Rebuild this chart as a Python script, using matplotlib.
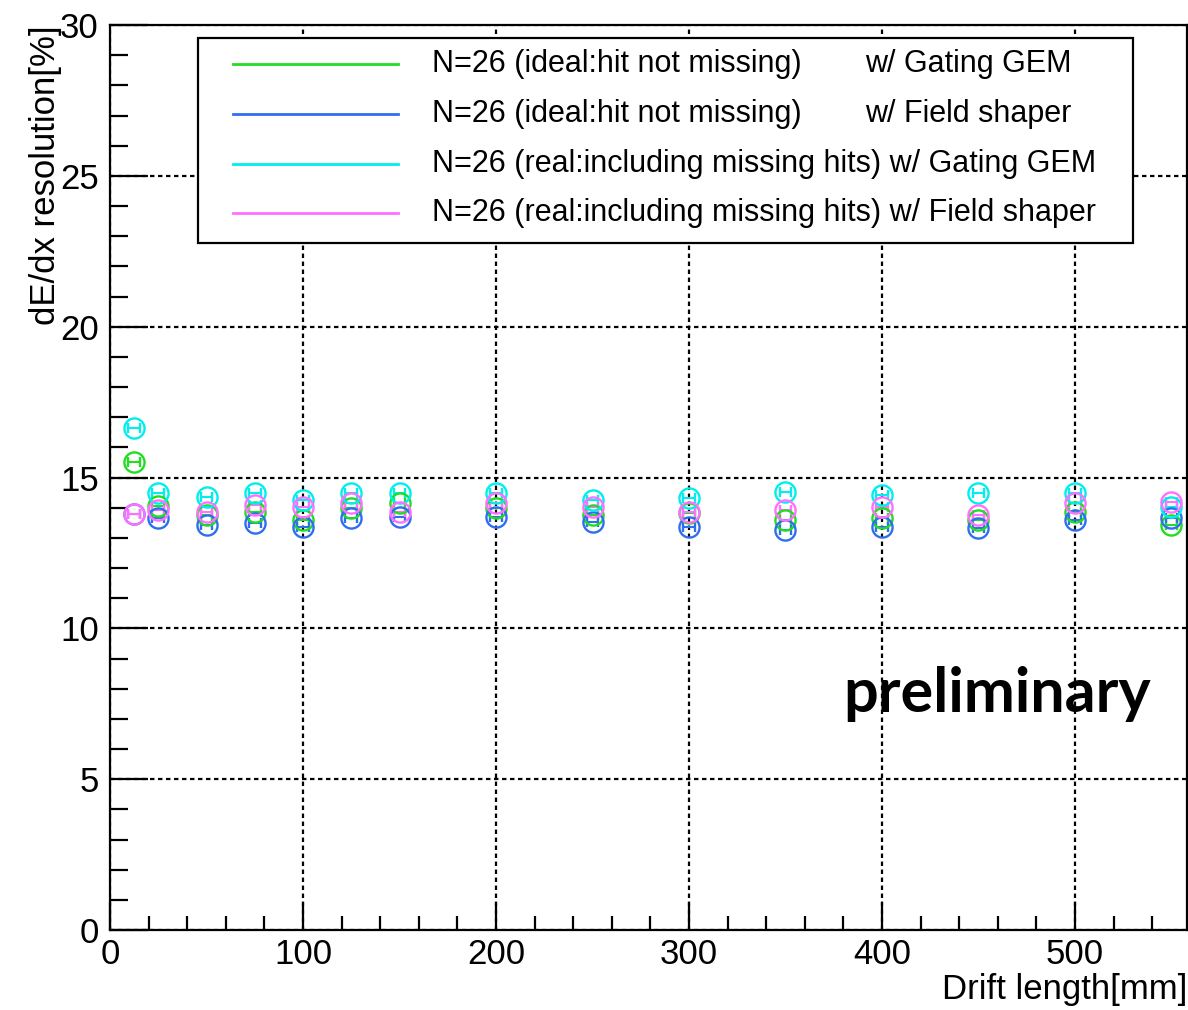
import matplotlib
matplotlib.use('Agg')
import numpy as np
import matplotlib.pyplot as plt
from matplotlib.ticker import MultipleLocator
from matplotlib.lines import Line2D
from matplotlib.patches import Rectangle

plt.rcParams['font.family'] = ['Liberation Sans', 'DejaVu Sans']

# drift length [mm]
drift = [12.5, 25, 50, 75, 100, 125, 150, 200, 250, 300, 350, 400, 450, 500, 550]

# dE/dx resolution [%]
ideal_gem = [15.51, 14.05, 13.75, 13.85, 13.59, 13.99, 14.15, 13.99, 13.75, 13.82, 13.59, 13.66, 13.60, 13.85, 13.42]
ideal_fs = [13.80, 13.66, 13.42, 13.49, 13.36, 13.66, 13.69, 13.69, 13.52, 13.36, 13.26, 13.36, 13.32, 13.59, 13.66]
real_gem = [16.64, 14.48, 14.35, 14.48, 14.25, 14.48, 14.48, 14.48, 14.25, 14.32, 14.52, 14.42, 14.48, 14.48, 14.02]
real_fs = [13.78, 13.92, 13.85, 14.09, 14.02, 14.15, 13.85, 14.15, 14.02, 13.85, 13.92, 14.02, 13.75, 14.15, 14.19]
x_err = [3.0] * len(drift)

series = [ideal_gem, ideal_fs, real_gem, real_fs]
colors = ['#22dd22', '#2f6fef', '#00eeee', '#ff70ff']
label_left = ['N=26 (ideal:hit not missing)',
              'N=26 (ideal:hit not missing)',
              'N=26 (real:including missing hits) w/ Gating GEM',
              'N=26 (real:including missing hits) w/ Field shaper']
label_right = ['w/ Gating GEM', 'w/ Field shaper', '', '']

fig = plt.figure(figsize=(11.88, 10.10), dpi=100)
ax = fig.add_axes([0.0926, 0.0792, 0.9065, 0.896])

for vals, c in zip(series, colors):
    ax.errorbar(drift, vals, xerr=x_err, fmt='o', mfc='none', mec=c, ecolor=c,
                ms=14.5, mew=1.7, elinewidth=1.5, capsize=3.5, capthick=1.5, zorder=3)

ax.set_xlim(0, 558)
ax.set_ylim(0, 30)
ax.xaxis.set_major_locator(MultipleLocator(100))
ax.xaxis.set_minor_locator(MultipleLocator(20))
ax.yaxis.set_major_locator(MultipleLocator(5))
ax.yaxis.set_minor_locator(MultipleLocator(1))
ax.grid(True, which='major', color='black', linestyle=(0, (2.0, 1.6)), linewidth=1.6)

for s in ax.spines.values():
    s.set_linewidth(1.6)
ax.tick_params(axis='both', which='both', direction='in', width=1.6, labelsize=25)
ax.tick_params(axis='y', which='major', length=27, pad=8)
ax.tick_params(axis='y', which='minor', length=13)
ax.tick_params(axis='x', which='major', length=20, pad=6)
ax.tick_params(axis='x', which='minor', length=10)

ax.set_ylabel('dE/dx resolution[%]', fontsize=25, loc='top')
ax.yaxis.set_label_coords(-0.045, 1.0)
ax.set_xlabel('Drift length[mm]', fontsize=25, loc='right')
ax.xaxis.set_label_coords(1.0, -0.048)

# legend box (ROOT style, lines only)
box = Rectangle((0.0817, 0.759), 0.8683, 0.2266, transform=ax.transAxes,
                facecolor='white', edgecolor='black', linewidth=1.6, zorder=5)
ax.add_patch(box)
row_y = [0.957, 0.902, 0.847, 0.792]
for i in range(4):
    ax.add_line(Line2D([0.114, 0.267], [row_y[i], row_y[i]], transform=ax.transAxes,
                       color=colors[i], linewidth=2, zorder=6))
    ax.text(0.299, row_y[i], label_left[i], transform=ax.transAxes, fontsize=22,
            va='center', ha='left', zorder=6)
    if label_right[i]:
        ax.text(0.701, row_y[i], label_right[i], transform=ax.transAxes, fontsize=22,
                va='center', ha='left', zorder=6)

ax.text(0.8236, 0.241, 'preliminary', transform=ax.transAxes, fontsize=44,
        fontweight='bold', family=['Lato', 'DejaVu Sans'], ha='center', va='baseline', zorder=6)

plt.savefig('out.png', dpi=100)
